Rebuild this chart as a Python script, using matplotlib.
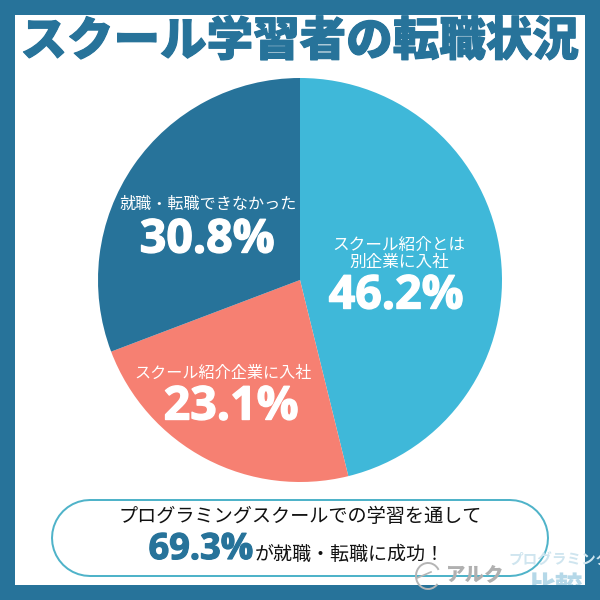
import matplotlib
matplotlib.use("Agg")
import matplotlib.pyplot as plt
import matplotlib.patheffects as pe
from matplotlib.patches import Rectangle, Arc

plt.rcParams['font.family'] = ['Noto Sans CJK JP', 'DejaVu Sans']

labels = ["スクール紹介とは\n別企業に入社", "スクール紹介企業に入社", "就職・転職できなかった"]
values = [46.2, 23.1, 30.8]
colors = ["#3fb8d9", "#f68072", "#27739a"]
title = "スクール学習者の転職状況"
total_text = "69.3%"
border = "#27739a"
pct_font = "Open Sans"

fig = plt.figure(figsize=(6, 6), dpi=100, facecolor=border)

# 白い台紙
bg = fig.add_axes([0, 0, 1, 1])
bg.set_xlim(0, 600)
bg.set_ylim(600, 0)
bg.axis("off")
sheet = Rectangle((15, 15), 570, 570, facecolor="white", edgecolor="none")
bg.add_patch(sheet)

bg.text(299.5, 42, title, ha="center", va="center", fontsize=33.5, fontweight="black",
        color=border, path_effects=[pe.withStroke(linewidth=0.8, foreground=border)])

# 円グラフ
ax = fig.add_axes([98 / 600, 1 - 482 / 600, 404 / 600, 404 / 600])
ax.pie(values, colors=colors, startangle=90, counterclock=False, radius=1,
       wedgeprops={"linewidth": 0})
ax.set_xlim(-1, 1)
ax.set_ylim(-1, 1)

# ラベル
top = fig.add_axes([0, 0, 1, 1])
top.set_xlim(0, 600)
top.set_ylim(600, 0)
top.axis("off")
top.patch.set_alpha(0)

thick = [pe.withStroke(linewidth=1.0, foreground="white")]
top.text(399, 254, labels[0], ha="center", va="center", fontsize=12, color="white",
         linespacing=1.05)
top.text(396, 296, f"{values[0]}%", ha="center", va="center", fontsize=33.5, color="white",
         fontweight="bold", family=pct_font, path_effects=thick)
top.text(223, 373, labels[1], ha="center", va="center", fontsize=11.6, color="white")
top.text(231, 407, f"{values[1]}%", ha="center", va="center", fontsize=33.5, color="white",
         fontweight="bold", family=pct_font, path_effects=thick)
top.text(208, 204, labels[2], ha="center", va="center", fontsize=11.6, color="white")
top.text(207, 240, f"{values[2]}%", ha="center", va="center", fontsize=33.5, color="white",
         fontweight="bold", family=pct_font, path_effects=thick)

# 下の吹き出し(太い線の丸端で角丸を作る)
px = 72 / fig.dpi
top.plot([90, 510], [538, 538], color="#4fb3c9", linewidth=78 * px, solid_capstyle="round", zorder=1)
top.plot([90, 510], [538, 538], color="white", linewidth=74 * px, solid_capstyle="round", zorder=1.5)
top.text(300, 516, "プログラミングスクールでの学習を通して", ha="center", va="center",
         fontsize=13.8, color="#111111", zorder=2)
top.text(201, 550, total_text, ha="center", va="center", fontsize=26, color=border,
         fontweight="bold", family=pct_font, zorder=2,
         path_effects=[pe.withStroke(linewidth=0.9, foreground=border)])
top.text(350, 555, "が就職・転職に成功！", ha="center", va="center", fontsize=13.7,
         color="#111111", zorder=2)

# 透かし
top.add_patch(Arc((428, 576), 24, 26, theta1=40, theta2=330, color="#b5b5b5", linewidth=1.4, zorder=3))
top.plot([417, 431], [578, 572], color="#b5b5b5", linewidth=1.2, zorder=3)
top.text(475, 576, "アルク", ha="center", va="center", fontsize=14, color="#b0b0b0",
         fontweight="black", style="italic", zorder=3)
top.text(508, 559, "プログラミング", ha="left", va="center", fontsize=10.5, color="#cfe5ef",
         fontweight="bold", zorder=3)
wm2 = top.text(555, 588, "比較", ha="center", va="center", fontsize=20, color="#b5d8e8",
               fontweight="black", zorder=3)
wm2.set_clip_path(Rectangle((15, 15), 570, 570, transform=top.transData))
wm2.set_clip_on(True)

fig.savefig("out.png", dpi=100, facecolor=fig.get_facecolor())
